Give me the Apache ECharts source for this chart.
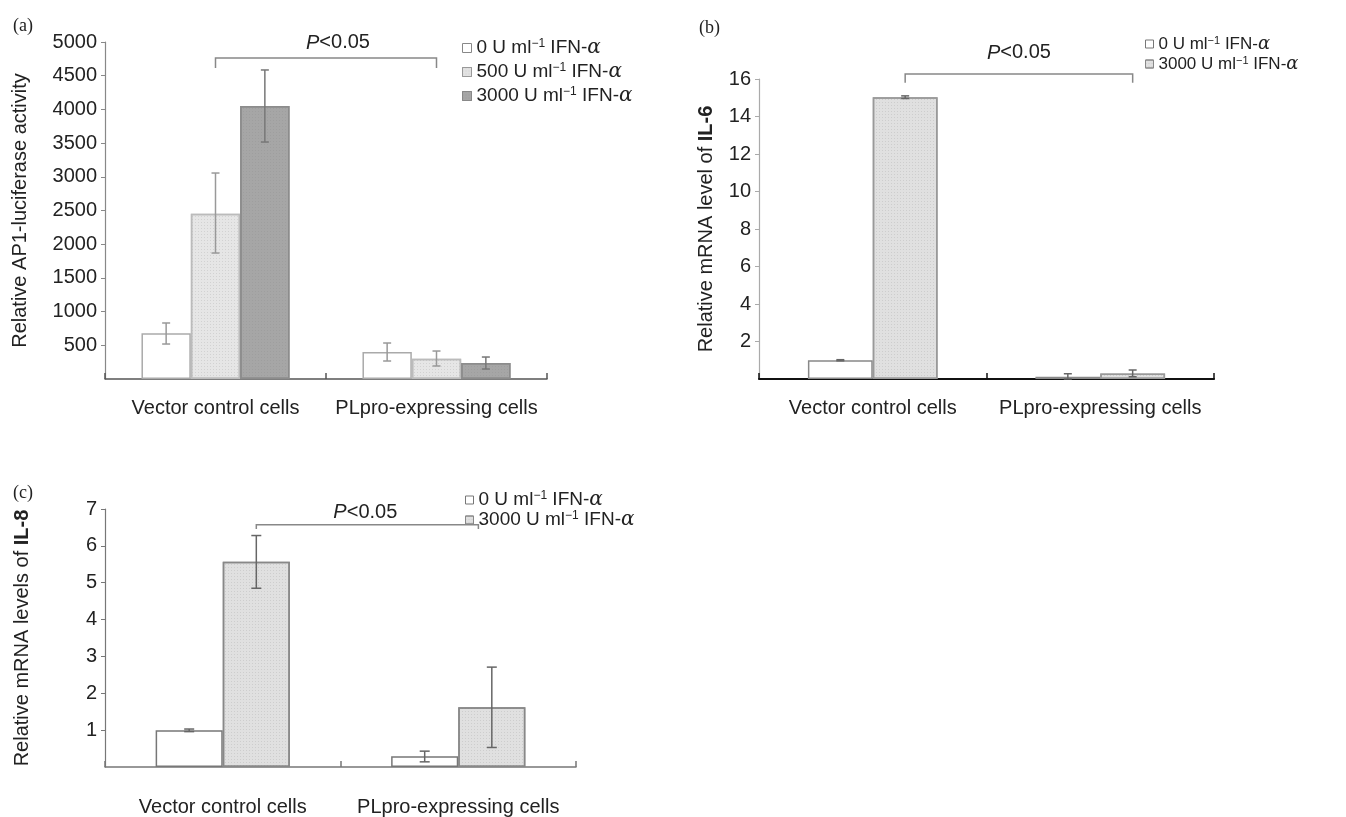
<!DOCTYPE html>
<html>
<head>
<meta charset="utf-8">
<script src="https://cdn.jsdelivr.net/npm/echarts@6/dist/echarts.min.js"></script>
<style>
  body { margin: 0; background: #fff; }
  #chart { width: 1346px; height: 817px; }
</style>
</head>
<body>
<div id="chart"></div>
<script>
var categories = ['Vector control cells', 'PLpro-expressing cells'];
var doseNames = ['0 U ml−1 IFN-α', '500 U ml−1 IFN-α', '3000 U ml−1 IFN-α'];

// (a) AP1-luciferase
var a0 = [680, 400];
var a500 = [2450, 300];
var a3000 = [4050, 237];
var a0Err = [[519, 831], [267, 534]];
var a500Err = [[1869, 3056], [193, 415]];
var a3000Err = [[3516, 4585], [148, 326]];

// (b) IL-6 mRNA
var b0 = [1.0, 0.12];
var b3000 = [15.03, 0.3];
var b0Err = [[0.97, 1.03], [0.0, 0.28]];
var b3000Err = [[14.96, 15.1], [0.12, 0.48]];

// (c) IL-8 mRNA
var c0 = [1.0, 0.29];
var c3000 = [5.57, 1.62];
var c0Err = [[0.96, 1.03], [0.14, 0.43]];
var c3000Err = [[4.85, 6.28], [0.53, 2.71]];

// significance brackets: [catL, slotShiftL, catR, slotShiftR, yTop, yEnd]
var aBracket = [0, 0, 1, 0, 4763, 4615];
var bBracket = [0, 0.5, 1, 0.5, 16.27, 15.8];
var cBracket = [0, 0.5, 1, 0.3, 6.57, 6.46];

var FONT = '"Liberation Sans", Arial, Helvetica, sans-serif';

var chart = echarts.init(document.getElementById('chart'));

function legendFmt(name) {
    return name.replace('ml−1', 'ml{sup|−1}').replace('α', '{al|α}');
}
function legendRich(size) {
    return {
        sup: { fontSize: Math.round(size * 0.65), verticalAlign: 'top', fontFamily: FONT, color: '#222', padding: [0, 0, 10, 0] },
        al: { fontSize: size + 1, fontStyle: 'italic', fontFamily: '"DejaVu Serif", "Liberation Serif", serif', color: '#222' }
    };
}

// error bars drawn at the slot of a grouped bar
function errRender(slot, n, gap, cap, color, width) {
    return function (params, api) {
        var cat = api.value(0);
        var lo = api.coord([cat, api.value(1)]);
        var hi = api.coord([cat, api.value(2)]);
        var band = api.size([1, 0])[0];
        var barW = band * (1 - gap) / n;
        var x = lo[0] + (slot - (n - 1) / 2) * barW;
        var st = { stroke: color, lineWidth: width };
        return {
            type: 'group',
            children: [
                { type: 'line', shape: { x1: x, y1: lo[1], x2: x, y2: hi[1] }, style: st },
                { type: 'line', shape: { x1: x - cap / 2, y1: lo[1], x2: x + cap / 2, y2: lo[1] }, style: st },
                { type: 'line', shape: { x1: x - cap / 2, y1: hi[1], x2: x + cap / 2, y2: hi[1] }, style: st }
            ]
        };
    };
}

function bracketRender(br, n, gap, color, textDy, textDx) {
    return function (params, api) {
        var band = api.size([1, 0])[0];
        var barW = band * (1 - gap) / n;
        var l = api.coord([br[0], br[4]]);
        var r = api.coord([br[2], br[4]]);
        var lx = l[0] + br[1] * barW;
        var rx = r[0] + br[3] * barW;
        var yEnd = api.coord([br[0], br[5]])[1];
        var y = l[1];
        var st = { stroke: color, lineWidth: 1.5, fill: null };
        return {
            type: 'group',
            children: [
                { type: 'polyline', shape: { points: [[lx, yEnd], [lx, y], [rx, y], [rx, yEnd]] }, style: st },
                {
                    type: 'text',
                    style: {
                        x: (lx + rx) / 2 + textDx, y: y - textDy,
                        text: '{p|P}<0.05',
                        fontSize: 20, fontFamily: FONT, fill: '#222',
                        align: 'center', verticalAlign: 'middle',
                        rich: { p: { fontStyle: 'italic', fontSize: 20, fontFamily: FONT, color: '#222' } }
                    }
                }
            ]
        };
    };
}

function errData(arr) {
    return arr.map(function (e, i) { return [i, e[0], e[1]]; });
}

function yAxis(gi, max, interval, name, gap, lineColor) {
    return {
        type: 'value', gridIndex: gi, min: 0, max: max, interval: interval,
        name: name, nameLocation: 'middle', nameGap: gap,
        nameTextStyle: { fontSize: 20, fontFamily: FONT, color: '#222', rich: { b: { fontSize: 20, fontWeight: 'bold', fontFamily: FONT, color: '#222' } } },
        axisLine: { show: true, lineStyle: { color: lineColor, width: 1.2 } },
        axisTick: { show: true, length: 4, lineStyle: { color: lineColor } },
        axisLabel: {
            showMinLabel: false, fontSize: 20, fontFamily: FONT, color: '#222', margin: 8,
            formatter: function (v) { return String(v); }
        },
        splitLine: { show: false }
    };
}

function xAxis(gi, margin, lineColor, lineWidth) {
    return {
        type: 'category', gridIndex: gi, data: categories,
        axisLine: { show: true, lineStyle: { color: lineColor, width: lineWidth } },
        axisTick: { show: true, inside: true, length: 6, lineStyle: { color: lineColor, width: 1.5 } },
        axisLabel: { interval: 0, fontSize: 20, fontFamily: FONT, color: '#222', margin: margin },
        splitLine: { show: false }
    };
}

function bar(name, gi, data, fill, border, gapStr, dotted) {
    var st = { color: fill, borderColor: border, borderWidth: 1.5 };
    if (dotted) {
        st.decal = { symbol: 'rect', symbolSize: 1, dashArrayX: [1, 2], dashArrayY: [1, 2], color: 'rgba(120,120,120,0.18)' };
    }
    return {
        type: 'bar', name: name, xAxisIndex: gi, yAxisIndex: gi, data: data,
        barGap: 0, barCategoryGap: gapStr, itemStyle: st, silent: true
    };
}

function err(gi, data, slot, n, gap, cap, color) {
    return {
        type: 'custom', xAxisIndex: gi, yAxisIndex: gi, data: errData(data),
        renderItem: errRender(slot, n, gap, cap, color, 1.5), z: 5, silent: true,
        encode: { x: 0, y: [1, 2] }
    };
}

function bracket(gi, br, n, gap, color, dy, dx) {
    return {
        type: 'custom', xAxisIndex: gi, yAxisIndex: gi, data: [[0, br[4]]],
        renderItem: bracketRender(br, n, gap, color, dy, dx), z: 6, silent: true, clip: false,
        encode: { x: 0, y: 1 }
    };
}

var gapA = 0.33, gapB = 0.43, gapC = 0.43;
var SERIF = '"Liberation Serif", "DejaVu Serif", serif';

var option = {
    backgroundColor: '#fff',
    animation: false,
    title: [
        { text: '(a)', left: 8, top: 12, textStyle: { fontSize: 18, fontWeight: 'normal', fontFamily: SERIF, color: '#222' } },
        { text: '(b)', left: 694, top: 14, textStyle: { fontSize: 18, fontWeight: 'normal', fontFamily: SERIF, color: '#222' } },
        { text: '(c)', left: 8, top: 479, textStyle: { fontSize: 18, fontWeight: 'normal', fontFamily: SERIF, color: '#222' } }
    ],
    legend: [
        {
            orient: 'vertical', left: 457, top: 33, itemWidth: 9, itemHeight: 9, itemGap: 4, selectedMode: false,
            icon: 'rect', formatter: legendFmt,
            textStyle: { fontSize: 19, fontFamily: FONT, color: '#222', lineHeight: 20, rich: legendRich(19) },
            data: [
                { name: doseNames[0], itemStyle: { color: '#fff', borderColor: '#888', borderWidth: 1 } },
                { name: doseNames[1], itemStyle: { color: '#e2e2e2', borderColor: '#999', borderWidth: 1 } },
                { name: doseNames[2], itemStyle: { color: '#a6a6a6', borderColor: '#888', borderWidth: 1 } }
            ]
        },
        {
            orient: 'vertical', left: 1140, top: 30, itemWidth: 8, itemHeight: 8, itemGap: 2, selectedMode: false,
            icon: 'rect', formatter: legendFmt,
            textStyle: { fontSize: 17, fontFamily: FONT, color: '#222', lineHeight: 18, rich: legendRich(17) },
            data: [
                { name: doseNames[0], itemStyle: { color: '#fff', borderColor: '#777', borderWidth: 1 } },
                { name: doseNames[2], itemStyle: { color: '#e0e0e0', borderColor: '#888', borderWidth: 1 } }
            ]
        },
        {
            orient: 'vertical', left: 460, top: 485, itemWidth: 8, itemHeight: 8, itemGap: 0, selectedMode: false,
            icon: 'rect', formatter: legendFmt,
            textStyle: { fontSize: 19, fontFamily: FONT, color: '#222', lineHeight: 20, rich: legendRich(19) },
            data: [
                { name: doseNames[0], itemStyle: { color: '#fff', borderColor: '#777', borderWidth: 1 } },
                { name: doseNames[2], itemStyle: { color: '#e0e0e0', borderColor: '#888', borderWidth: 1 } }
            ]
        }
    ],
    grid: [
        { left: 105, top: 42, width: 442, height: 337 },
        { left: 759, top: 79, width: 455, height: 300 },
        { left: 105, top: 509, width: 471, height: 261 }
    ],
    xAxis: [
        xAxis(0, 19, '#555', 1.5),
        xAxis(1, 19, '#111', 2.2),
        xAxis(2, 30, '#777', 1.5)
    ],
    yAxis: [
        yAxis(0, 5000, 500, 'Relative AP1-luciferase activity', 75, '#888'),
        yAxis(1, 16, 2, 'Relative mRNA level of {b|IL-6}', 43, '#aaa'),
        yAxis(2, 7, 1, 'Relative mRNA levels of {b|IL-8}', 73, '#777')
    ],
    series: [
        bar(doseNames[0], 0, a0, '#ffffff', '#aaa', '33%', false),
        bar(doseNames[1], 0, a500, '#e6e6e6', '#bbb', '33%', true),
        bar(doseNames[2], 0, a3000, '#a6a6a6', '#8c8c8c', '33%', true),
        err(0, a0Err, 0, 3, gapA, 8, '#999'),
        err(0, a500Err, 1, 3, gapA, 8, '#999'),
        err(0, a3000Err, 2, 3, gapA, 8, '#777'),
        bracket(0, aBracket, 3, gapA, '#888', 15, 12),

        bar(doseNames[0], 1, b0, '#ffffff', '#888', '43%', false),
        bar(doseNames[2], 1, b3000, '#e0e0e0', '#999', '43%', true),
        err(1, b0Err, 0, 2, gapB, 8, '#666'),
        err(1, b3000Err, 1, 2, gapB, 8, '#666'),
        bracket(1, bBracket, 2, gapB, '#888', 21, 0),

        bar(doseNames[0], 2, c0, '#ffffff', '#777', '43%', false),
        bar(doseNames[2], 2, c3000, '#e0e0e0', '#888', '43%', true),
        err(2, c0Err, 0, 2, gapC, 10, '#666'),
        err(2, c3000Err, 1, 2, gapC, 10, '#666'),
        bracket(2, cBracket, 2, gapC, '#888', 12, -2)
    ]
};

chart.setOption(option);
</script>
</body>
</html>
